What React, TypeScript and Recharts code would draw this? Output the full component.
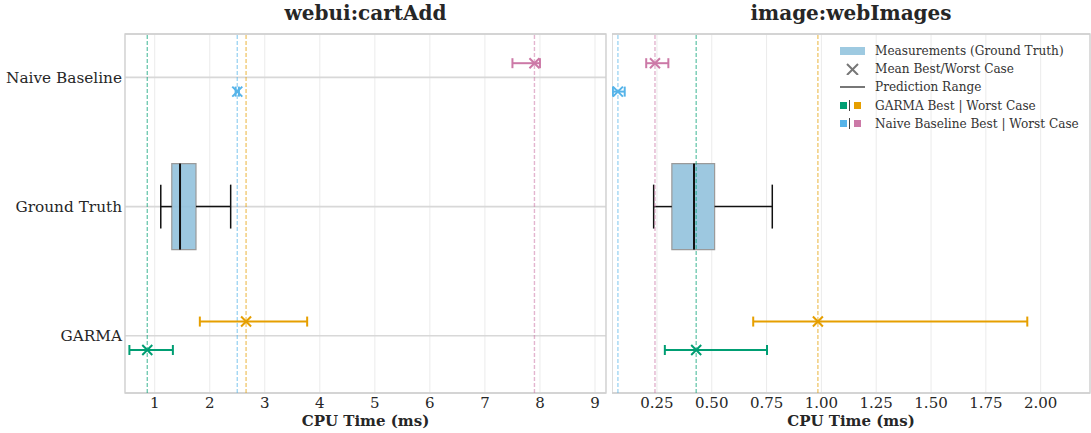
import React from "react";
import {
  ComposedChart,
  XAxis,
  YAxis,
  CartesianGrid,
  Scatter,
  ErrorBar,
  ReferenceLine,
  ReferenceArea,
  Label,
} from "recharts";

const FONT = "'DejaVu Serif', serif";
const TEXT = "#262626";

const GREEN = "#009E73";
const ORANGE = "#E69F00";
const BLUE = "#56B4E9";
const PINK = "#CC79A7";

/* --------- DATA (one entry per panel) --------- */
const PANEL_TITLES = ["webui:cartAdd", "image:webImages"];
const CATEGORIES = ["GARMA", "Ground Truth", "Naive Baseline"];
const X_TICKS = [
  [1, 2, 3, 4, 5, 6, 7, 8, 9],
  [0.25, 0.5, 0.75, 1.0, 1.25, 1.5, 1.75, 2.0],
];
const X_DOMAINS = [
  [0.46, 9.2],
  [0.045, 2.225],
];
const Y_DOMAIN = [-0.443, 2.336];

// ground truth measurements: whisker low, q1, median, q3, whisker high
const GT_LOW = [1.11, 0.235];
const GT_Q1 = [1.31, 0.318];
const GT_MEDIAN = [1.46, 0.419];
const GT_Q3 = [1.75, 0.513];
const GT_HIGH = [2.38, 0.776];

// predictions: min / mean / max
const GARMA_BEST_MIN = [0.54, 0.286];
const GARMA_BEST_MEAN = [0.865, 0.429];
const GARMA_BEST_MAX = [1.33, 0.752];
const GARMA_WORST_MIN = [1.82, 0.689];
const GARMA_WORST_MEAN = [2.66, 0.984];
const GARMA_WORST_MAX = [3.77, 1.939];
const NAIVE_BEST_MIN = [2.47, 0.049];
const NAIVE_BEST_MEAN = [2.5, 0.072];
const NAIVE_BEST_MAX = [2.53, 0.103];
const NAIVE_WORST_MIN = [7.5, 0.201];
const NAIVE_WORST_MEAN = [7.9, 0.241];
const NAIVE_WORST_MAX = [8.0, 0.302];

const LEGEND_LABELS = [
  "Measurements (Ground Truth)",
  "Mean Best/Worst Case",
  "Prediction Range",
  "GARMA Best | Worst Case",
  "Naive Baseline Best | Worst Case",
];

const OFFSET = 0.11; // worst case drawn above the category line, best below
const BOX_HALF = 0.333;
const CAP_HALF = 0.17;

const XMark = (props: any) => {
  const { cx, cy, fill } = props;
  const r = 5;
  return (
    <path
      d={`M${cx - r},${cy - r}L${cx + r},${cy + r}M${cx - r},${cy + r}L${cx + r},${cy - r}`}
      stroke={fill}
      strokeWidth={2}
      fill="none"
    />
  );
};

function Panel({ i, width, showY }: { i: number; width: number; showY: boolean }) {
  const series = [
    { name: "garmaBest", color: GREEN, y: 0 - OFFSET, min: GARMA_BEST_MIN[i], mean: GARMA_BEST_MEAN[i], max: GARMA_BEST_MAX[i] },
    { name: "garmaWorst", color: ORANGE, y: 0 + OFFSET, min: GARMA_WORST_MIN[i], mean: GARMA_WORST_MEAN[i], max: GARMA_WORST_MAX[i] },
    { name: "naiveBest", color: BLUE, y: 2 - OFFSET, min: NAIVE_BEST_MIN[i], mean: NAIVE_BEST_MEAN[i], max: NAIVE_BEST_MAX[i] },
    { name: "naiveWorst", color: PINK, y: 2 + OFFSET, min: NAIVE_WORST_MIN[i], mean: NAIVE_WORST_MEAN[i], max: NAIVE_WORST_MAX[i] },
  ];
  const [x0, x1] = X_DOMAINS[i];

  return (
    <ComposedChart
      width={width}
      height={433}
      margin={{ top: 34, right: 1, bottom: 0, left: 0 }}
    >
      <CartesianGrid horizontal={false} stroke="#ebebeb" strokeWidth={1} />
      <CartesianGrid vertical={false} stroke="#d8d8d8" strokeWidth={1.6} />
      <XAxis
        type="number"
        dataKey="x"
        domain={[x0, x1]}
        ticks={X_TICKS[i]}
        allowDataOverflow
        axisLine={false}
        tickLine={false}
        tickSize={0}
        tickMargin={4}
        height={40}
        interval={0}
        tickFormatter={(v: number) => (i === 0 ? String(v) : v.toFixed(2))}
        tick={{ fontSize: 15, fill: TEXT, fontFamily: FONT }}
      >
        <Label
          value="CPU Time (ms)"
          position="insideBottom"
          offset={7}
          style={{ fontSize: 15, fontWeight: "bold", fill: TEXT, fontFamily: FONT }}
        />
      </XAxis>
      <YAxis
        type="number"
        dataKey="y"
        domain={Y_DOMAIN}
        ticks={[0, 1, 2]}
        allowDataOverflow
        axisLine={false}
        tickLine={false}
        tickSize={0}
        tickMargin={3}
        width={showY ? 125 : 0}
        tick={showY ? { fontSize: 15.3, fill: TEXT, fontFamily: FONT } : false}
        tickFormatter={(v: number) => CATEGORIES[v]}
      />

      {/* whiskers */}
      <ReferenceLine segment={[{ x: GT_LOW[i], y: 1 }, { x: GT_Q1[i], y: 1 }]} stroke="#111" strokeWidth={1.5} />
      <ReferenceLine segment={[{ x: GT_Q3[i], y: 1 }, { x: GT_HIGH[i], y: 1 }]} stroke="#111" strokeWidth={1.5} />
      <ReferenceLine segment={[{ x: GT_LOW[i], y: 1 - CAP_HALF }, { x: GT_LOW[i], y: 1 + CAP_HALF }]} stroke="#111" strokeWidth={1.5} />
      <ReferenceLine segment={[{ x: GT_HIGH[i], y: 1 - CAP_HALF }, { x: GT_HIGH[i], y: 1 + CAP_HALF }]} stroke="#111" strokeWidth={1.5} />

      {/* box */}
      <ReferenceArea
        x1={GT_Q1[i]}
        x2={GT_Q3[i]}
        y1={1 - BOX_HALF}
        y2={1 + BOX_HALF}
        fill="#92c2dd"
        fillOpacity={0.9}
        stroke="#9a9a9a"
        strokeWidth={1.2}
      />
      <ReferenceLine
        segment={[{ x: GT_MEDIAN[i], y: 1 - BOX_HALF }, { x: GT_MEDIAN[i], y: 1 + BOX_HALF }]}
        stroke="#111"
        strokeWidth={2}
      />

      {/* mean lines */}
      {series.map((s) => (
        <ReferenceLine
          key={"ref-" + s.name}
          x={s.mean}
          stroke={s.color}
          strokeOpacity={0.55}
          strokeWidth={1.4}
          strokeDasharray="4 2"
        />
      ))}

      {/* plot frame */}
      <ReferenceArea
        x1={x0}
        x2={x1}
        y1={Y_DOMAIN[0]}
        y2={Y_DOMAIN[1]}
        fill="none"
        stroke="#cfcfcf"
        strokeWidth={1.3}
      />

      {series.map((s) => (
        <Scatter
          key={s.name}
          data={[{ x: s.mean, y: s.y, err: [s.mean - s.min, s.max - s.mean] }]}
          fill={s.color}
          shape={<XMark />}
          isAnimationActive={false}
        >
          <ErrorBar
            dataKey="err"
            direction="x"
            width={5}
            stroke={s.color}
            strokeWidth={2}
            isAnimationActive={false}
          />
        </Scatter>
      ))}
    </ComposedChart>
  );
}

function Legend() {
  const row: React.CSSProperties = {
    display: "flex",
    alignItems: "center",
    height: 18.3,
  };
  const handle: React.CSSProperties = {
    width: 35,
    display: "flex",
    alignItems: "center",
    justifyContent: "flex-start",
  };
  const sq = (c: string) => (
    <span style={{ display: "inline-block", width: 7, height: 7, background: c }} />
  );
  const pair = (a: string, b: string) => (
    <span style={{ display: "flex", alignItems: "center" }}>
      {sq(a)}
      <span style={{ display: "inline-block", width: 1.5, height: 11, background: "#444", margin: "0 4px 0 1.5px" }} />
      {sq(b)}
    </span>
  );
  const handles = [
    <span style={{ display: "inline-block", width: 25, height: 8, background: "#9ecae1" }} />,
    <svg width={25} height={12}>
      <path d="M7,1L18,12M7,12L18,1" stroke="#777" strokeWidth={2} fill="none" />
    </svg>,
    <span style={{ display: "inline-block", width: 25, height: 2.5, background: "#777" }} />,
    pair(GREEN, ORANGE),
    pair(BLUE, PINK),
  ];
  return (
    <div
      style={{
        position: "absolute",
        left: 840,
        top: 41.5,
        fontFamily: FONT,
        fontSize: 12.1,
        color: "#333",
      }}
    >
      {LEGEND_LABELS.map((l, k) => (
        <div key={l} style={row}>
          <div style={handle}>{handles[k]}</div>
          <span style={{ whiteSpace: "nowrap" }}>{l}</span>
        </div>
      ))}
    </div>
  );
}

export default function App() {
  const title: React.CSSProperties = {
    position: "absolute",
    top: 2,
    fontFamily: FONT,
    fontWeight: "bold",
    fontSize: 20,
    lineHeight: "22px",
    color: TEXT,
    textAlign: "center",
  };
  return (
    <div
      style={{
        position: "absolute",
        left: 0,
        top: 0,
        width: 1091,
        height: 433,
        background: "#fff",
        overflow: "hidden",
      }}
    >
      <div style={{ position: "absolute", left: 0, top: 0 }}>
        <Panel i={0} width={607} showY />
      </div>
      <div style={{ position: "absolute", left: 612, top: 0 }}>
        <Panel i={1} width={479} showY={false} />
      </div>
      <div style={{ ...title, left: 125, width: 481 }}>{PANEL_TITLES[0]}</div>
      <div style={{ ...title, left: 612, width: 478 }}>{PANEL_TITLES[1]}</div>
      <Legend />
    </div>
  );
}
